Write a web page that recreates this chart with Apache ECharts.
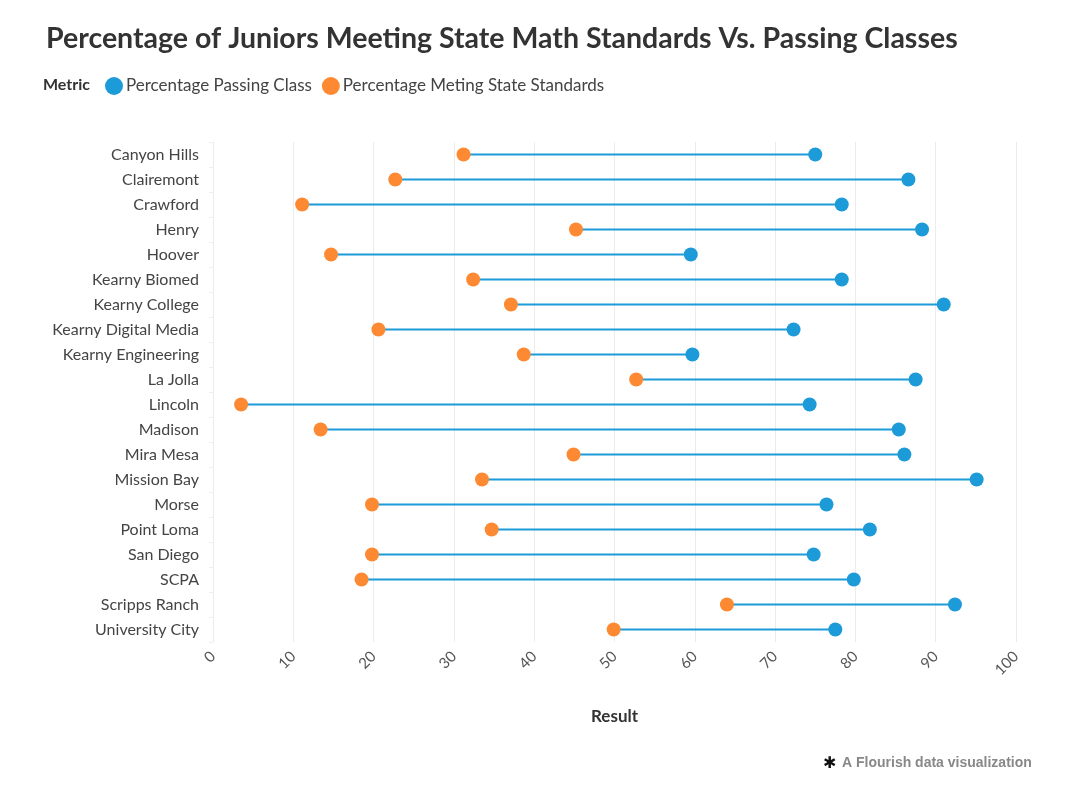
<!DOCTYPE html>
<html>
<head>
<meta charset="utf-8">
<script src="https://cdn.jsdelivr.net/npm/echarts@6/dist/echarts.min.js"></script>
<style>
  html, body { margin: 0; padding: 0; background: #fff; }
  #chart { width: 1080px; height: 795px; }
</style>
</head>
<body>
<div id="chart"></div>
<script>
// School names, top to bottom
const schools = [
  'Canyon Hills', 'Clairemont', 'Crawford', 'Henry', 'Hoover',
  'Kearny Biomed', 'Kearny College', 'Kearny Digital Media', 'Kearny Engineering', 'La Jolla',
  'Lincoln', 'Madison', 'Mira Mesa', 'Mission Bay', 'Morse',
  'Point Loma', 'San Diego', 'SCPA', 'Scripps Ranch', 'University City'
];

// Percentage passing class
const passing = [
  75.0, 86.6, 78.3, 88.3, 59.5,
  78.3, 91.0, 72.3, 59.7, 87.5,
  74.3, 85.4, 86.1, 95.1, 76.4,
  81.8, 74.8, 79.8, 92.4, 77.5
];

// Percentage meeting state standards
const meeting = [
  31.2, 22.7, 11.1, 45.2, 14.7,
  32.4, 37.1, 20.6, 38.7, 52.7,
  3.5, 13.4, 44.9, 33.5, 19.8,
  34.7, 19.8, 18.5, 64.0, 49.9
];

const xTicks = [0, 10, 20, 30, 40, 50, 60, 70, 80, 90, 100];

const blue = '#1d9bd9';
const orange = '#fd8a33';
const font = 'Lato, "Noto Sans", sans-serif';

function jsMain() {
  const chart = echarts.init(document.getElementById('chart'));

  const rangeData = schools.map((s, i) => [meeting[i], passing[i], s]);

  const option = {
    backgroundColor: '#fff',
    animation: false,
    textStyle: { fontFamily: font },
    title: {
      text: 'Percentage of Juniors Meeting State Math Standards Vs. Passing Classes',
      left: 41,
      top: 19,
      textStyle: { fontSize: 28.5, fontWeight: 'bold', color: '#333', fontFamily: font }
    },
    legend: {
      left: 100,
      top: 72,
      itemWidth: 18,
      itemHeight: 18,
      itemGap: 10,
      icon: 'circle',
      data: ['Percentage Passing Class', 'Percentage Meting State Standards'],
      textStyle: { fontSize: 17, color: '#444', padding: [0, 0, 0, -2] }
    },
    graphic: [
      {
        type: 'text', left: 43, top: 77,
        style: { text: 'Metric', fontSize: 16, fontWeight: 'bold', fill: '#333', fontFamily: font }
      },
      {
        type: 'text', left: 823, top: 756,
        style: { text: '\u2731', fontSize: 16, fill: '#111', fontFamily: '"DejaVu Sans", sans-serif' }
      },
      {
        type: 'text', left: 842, top: 756,
        style: { text: 'A Flourish data visualization', fontSize: 14, fontWeight: 'bold', fill: '#888',
                 fontFamily: '"Liberation Sans", Arial, sans-serif' }
      }
    ],
    grid: { left: 213, right: 64, top: 142, height: 500 },
    xAxis: {
      type: 'value',
      min: 0,
      max: 100,
      interval: 10,
      name: 'Result',
      nameLocation: 'middle',
      nameGap: 66,
      nameTextStyle: { fontSize: 17, fontWeight: 'bold', color: '#333' },
      axisLine: { show: false },
      axisTick: { show: false },
      axisLabel: {
        rotate: 45, color: '#555', fontSize: 15, margin: 12,
        formatter: v => xTicks.includes(v) ? String(v) : ''
      },
      splitLine: { show: true, lineStyle: { color: '#ececec', width: 1 } }
    },
    yAxis: {
      type: 'category',
      data: schools,
      inverse: true,
      axisLine: { show: false },
      axisTick: { show: true, length: 4, lineStyle: { color: '#eeeeee' } },
      axisLabel: { color: '#444', fontSize: 16, margin: 14 },
      splitLine: { show: false }
    },
    series: [
      {
        name: 'range',
        type: 'custom',
        data: rangeData,
        encode: { x: [0, 1], y: 2 },
        renderItem: function (params, api) {
          const a = api.coord([api.value(0), params.dataIndex]);
          const b = api.coord([api.value(1), params.dataIndex]);
          return {
            type: 'line',
            shape: { x1: a[0], y1: a[1], x2: b[0], y2: b[1] },
            style: { stroke: blue, lineWidth: 2 }
          };
        },
        z: 1
      },
      {
        name: 'Percentage Passing Class',
        type: 'scatter',
        symbolSize: 14,
        data: passing.map((v, i) => [v, schools[i]]),
        itemStyle: { color: blue, opacity: 1 },
        z: 3
      },
      {
        name: 'Percentage Meting State Standards',
        type: 'scatter',
        symbolSize: 14,
        data: meeting.map((v, i) => [v, schools[i]]),
        itemStyle: { color: orange, opacity: 1 },
        z: 3
      }
    ]
  };

  chart.setOption(option);
}

jsMain();
</script>
</body>
</html>
